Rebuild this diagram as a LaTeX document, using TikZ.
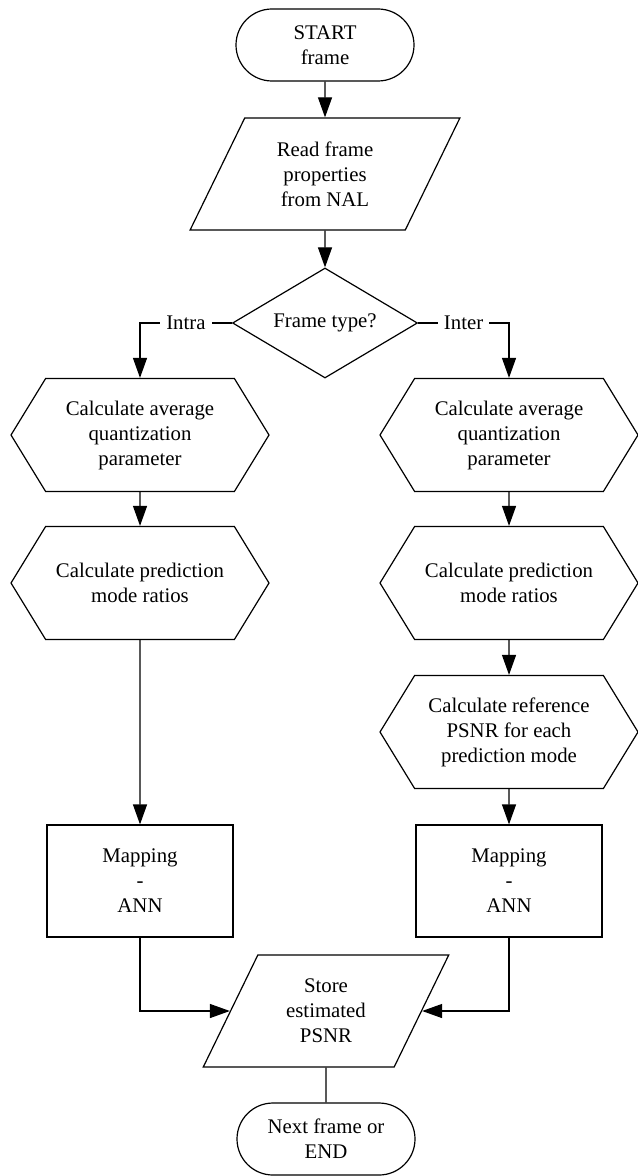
\documentclass[tikz,border=0pt]{standalone}
\usepackage{fontspec}
\setmainfont{Liberation Serif}
\usetikzlibrary{arrows.meta,shapes.geometric,shapes.misc,shapes.symbols}

\tikzset{
  base/.style={draw,line width=0.6pt,align=center,inner sep=2pt,
    font=\rmfamily\fontsize{10.4}{12.5}\selectfont},
  term/.style={base,rounded rectangle,minimum width=93pt,minimum height=36pt},
  io/.style={base,trapezium,trapezium left angle=64,trapezium right angle=116,
    minimum width=120.5pt,minimum height=56pt},
  proc/.style={base,signal,signal to=west and east,signal pointer angle=117,
    minimum width=129pt,minimum height=56.5pt},
  decide/.style={base,diamond,aspect=1.68,inner sep=0pt,
    minimum width=92.5pt,minimum height=55pt},
  mapbox/.style={base,rectangle,minimum width=93pt,minimum height=56pt},
  arr/.style={line width=0.6pt,-{Triangle[length=10pt,width=7pt]}},
  link/.style={line width=0.6pt}
}

\begin{document}
\begin{tikzpicture}[x=0.5pt,y=-0.5pt]
  \useasboundingbox (0,0) rectangle (637,1176);

  % main column
  \node[term] (start) at (325,45) {START\\frame};
  \node[io] (read) at (325,174) {Read frame\\properties\\from NAL};
  \node[decide] (ftype) at (325,323) {Frame type?};

  % intra branch
  \node[proc] (avgqpA) at (140,435) {Calculate average\\quantization\\parameter};
  \node[proc] (ratioA) at (140,583) {Calculate prediction\\mode ratios};
  \node[mapbox] (mapA) at (140,881) {Mapping\\-\\ANN};

  % inter branch
  \node[proc] (avgqpB) at (509,435) {Calculate average\\quantization\\parameter};
  \node[proc] (ratioB) at (509,583) {Calculate prediction\\mode ratios};
  \node[proc] (refpsnr) at (509,732) {Calculate reference\\PSNR for each\\prediction mode};
  \node[mapbox] (mapB) at (509,881) {Mapping\\-\\ANN};

  % output
  \node[io] (store) at (326,1011) {Store\\estimated\\PSNR};
  \node[term] (next) at (326,1139) {Next frame or\\END};

  \draw[arr] (start) -- (read);
  \draw[arr] (read) -- (ftype);
  \draw[arr] (ftype.west) -| node[pos=0.25,fill=white,inner sep=3pt,
    font=\rmfamily\fontsize{10.4}{12.5}\selectfont] (intra) {Intra} (avgqpA.north);
  \draw[arr] (ftype.east) -| node[pos=0.25,fill=white,inner sep=3pt,
    font=\rmfamily\fontsize{10.4}{12.5}\selectfont] (inter) {Inter} (avgqpB.north);
  \draw[arr] (avgqpA) -- (ratioA);
  \draw[arr] (ratioA) -- (mapA);
  \draw[arr] (avgqpB) -- (ratioB);
  \draw[arr] (ratioB) -- (refpsnr);
  \draw[arr] (refpsnr) -- (mapB);
  \draw[arr] (mapA.south) |- (store.west);
  \draw[arr] (mapB.south) |- (store.east);
  \draw[link] (store) -- (next);
\end{tikzpicture}
\end{document}
